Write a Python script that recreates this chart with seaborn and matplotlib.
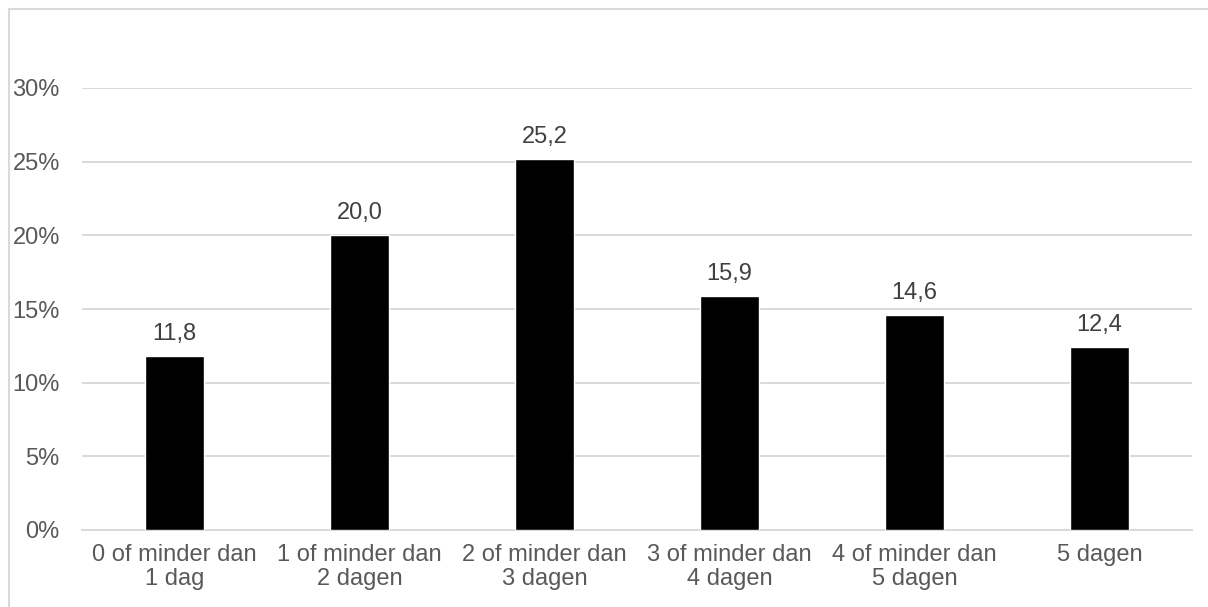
import matplotlib
matplotlib.use("Agg")
import matplotlib.pyplot as plt
from matplotlib.lines import Line2D
from matplotlib.ticker import PercentFormatter
import seaborn as sns
import pandas as pd

categories = [
    "0 of minder dan\n1 dag",
    "1 of minder dan\n2 dagen",
    "2 of minder dan\n3 dagen",
    "3 of minder dan\n4 dagen",
    "4 of minder dan\n5 dagen",
    "5 dagen",
]
percentages = [11.8, 20.0, 25.2, 15.9, 14.6, 12.4]
y_ticks = [0, 5, 10, 15, 20, 25, 30]

sns.set_theme(style="white")
plt.rcParams["font.family"] = ["Liberation Sans", "DejaVu Sans"]

W, H = 1208, 607
fig = plt.figure(figsize=(W / 100, H / 100), dpi=100)
ax = fig.add_axes([82 / W, (H - 530) / H, (1192 - 82) / W, (530 - 88) / H])

df = pd.DataFrame({"cat": categories, "pct": [v / 100 for v in percentages]})
sns.barplot(data=df, x="cat", y="pct", color="black", saturation=1,
            width=0.314, ax=ax, zorder=3)

ax.set_ylim(0, 0.30)
ax.set_yticks([t / 100 for t in y_ticks])
ax.yaxis.set_major_formatter(PercentFormatter(1.0, decimals=0))
ax.grid(axis="y", color="#d9d9d9", linewidth=1.4, zorder=0)
ax.grid(axis="x", visible=False)
ax.set_axisbelow(True)
for s in ["top", "right", "left"]:
    ax.spines[s].set_visible(False)
ax.spines["bottom"].set_color("#d9d9d9")
ax.spines["bottom"].set_linewidth(1.4)
ax.set_xlabel("")
ax.set_ylabel("")
ax.tick_params(axis="y", length=0, pad=16, labelsize=17, labelcolor="#595959")
ax.tick_params(axis="x", length=0, pad=10, labelsize=17, labelcolor="#595959")
for lbl in ax.get_xticklabels():
    lbl.set_linespacing(1.12)

labels = [f"{v:.1f}".replace(".", ",") for v in percentages]
ax.bar_label(ax.containers[0], labels=labels, padding=8, fontsize=17,
             color="#404040")

# chart frame: top and left edges
x0, y0 = 8.5 / W, 1 - 8.5 / H
fig.lines.append(Line2D([x0, 1.0], [y0, y0], transform=fig.transFigure,
                        color="#d9d9d9", linewidth=1.5))
fig.lines.append(Line2D([x0, x0], [0.0, y0], transform=fig.transFigure,
                        color="#d9d9d9", linewidth=1.5))

fig.savefig("out.png", dpi=100)
